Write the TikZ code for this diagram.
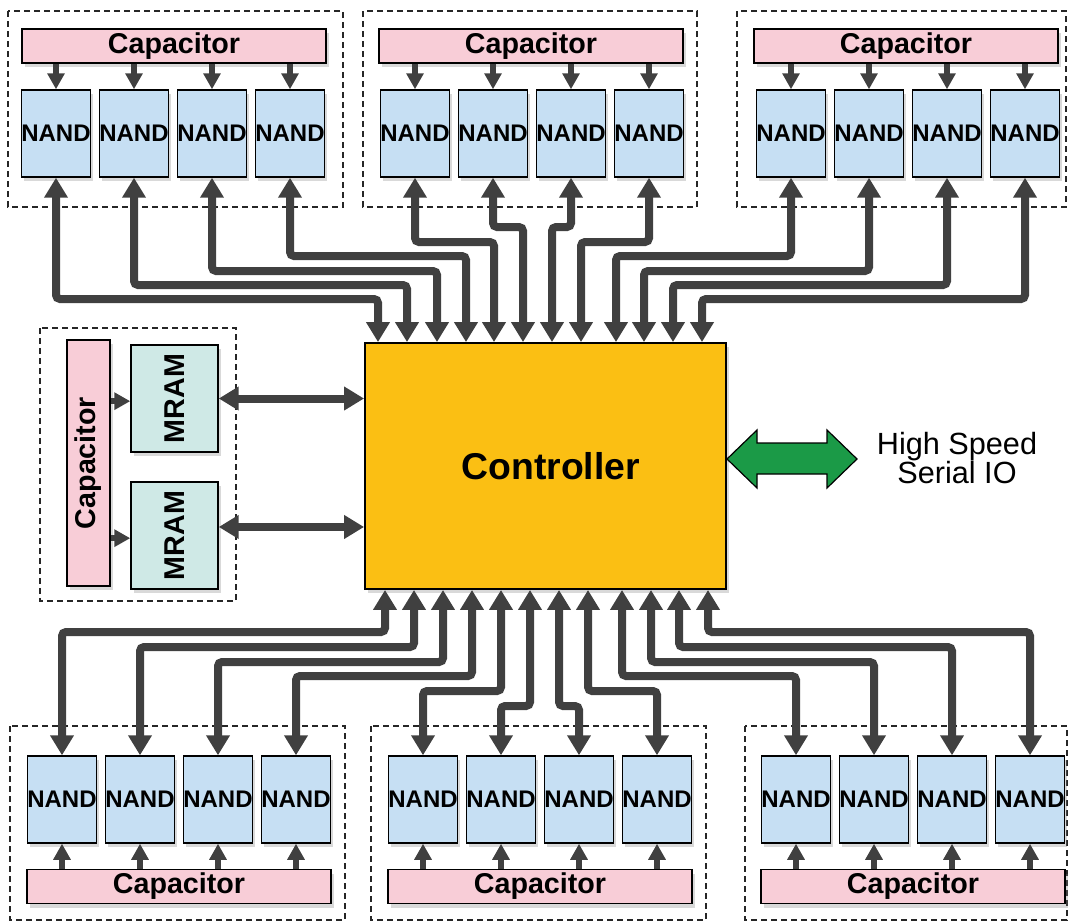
\documentclass[tikz,border=0pt]{standalone}
\usepackage{fontspec}
\setmainfont{Liberation Sans}
\usetikzlibrary{arrows.meta,shadows}

\newdimen\pxu \pxu=0.75pt

\definecolor{capfill}{HTML}{F8CDD7}
\definecolor{nandfill}{HTML}{C6DFF3}
\definecolor{mramfill}{HTML}{CFE9E6}
\definecolor{ctrlfill}{HTML}{FBBF13}
\definecolor{siogreen}{HTML}{1B9A47}
\definecolor{busgray}{HTML}{404040}

\begin{document}
\begin{tikzpicture}[
  x = 0.75pt, y = -0.75pt,
  every node/.style = {inner sep=0pt},
  box/.style     = {draw, line width=1.1pt,
                    drop shadow={shadow xshift=2pt, shadow yshift=-3pt, opacity=0.3}},
  nand/.style    = {box, fill=nandfill, minimum width=69\pxu, minimum height=87\pxu,
                    font=\fontsize{18}{18}\selectfont\bfseries},
  capbar/.style  = {box, fill=capfill, minimum width=304\pxu, minimum height=34\pxu,
                    font=\fontsize{21.5}{21.5}\selectfont\bfseries},
  mram/.style    = {box, fill=mramfill, minimum width=87\pxu, minimum height=107\pxu,
                    font=\fontsize{21.5}{21.5}\selectfont\bfseries},
  group/.style   = {draw=black!85, line width=1.1pt, dash pattern=on 4.5pt off 3pt},
  bus/.style     = {draw=busgray, line width=6pt, rounded corners=3pt,
                    {Triangle[width=17pt,length=15pt]}-{Triangle[width=17pt,length=15pt]}},
  feed/.style    = {draw=busgray, line width=4.8pt,
                    -{Triangle[width=12.5pt,length=12pt]}},
]
\useasboundingbox (0,0) rectangle (1069,922);

% groups
\draw[group] (8,11) rectangle (343,207);
\draw[group] (363,11) rectangle (697,207);
\draw[group] (737,11) rectangle (1066,207);
\draw[group] (40,328) rectangle (236,601);
\draw[group] (10,726) rectangle (345,920);
\draw[group] (371,726) rectangle (706,920);
\draw[group] (745,726) rectangle (1067,920);

% top row
\node[capbar] (tlcap) at (174,46) {Capacitor};
\node[capbar] (tmcap) at (531,46) {Capacitor};
\node[capbar] (trcap) at (906,46) {Capacitor};
\foreach \i/\x in {1/56, 2/134, 3/212, 4/290}
  \node[nand] (tl\i) at (\x,133.5) {NAND};
\foreach \i/\x in {1/415, 2/493, 3/571, 4/649}
  \node[nand] (tm\i) at (\x,133.5) {NAND};
\foreach \i/\x in {1/791, 2/869, 3/947, 4/1025}
  \node[nand] (tr\i) at (\x,133.5) {NAND};

% bottom row
\node[capbar] (blcap) at (179,886.5) {Capacitor};
\node[capbar] (bmcap) at (540,886.5) {Capacitor};
\node[capbar] (brcap) at (913,886.5) {Capacitor};
\foreach \i/\x in {1/62, 2/140, 3/218, 4/296}
  \node[nand] (bl\i) at (\x,799.5) {NAND};
\foreach \i/\x in {1/423, 2/501, 3/579, 4/657}
  \node[nand] (bm\i) at (\x,799.5) {NAND};
\foreach \i/\x in {1/796, 2/874, 3/952, 4/1030}
  \node[nand] (br\i) at (\x,799.5) {NAND};

% mram block
\node[box, fill=capfill, minimum width=43\pxu, minimum height=246\pxu,
      font=\fontsize{21.5}{21.5}\selectfont\bfseries] (mcap) at (88.5,463) {\rotatebox{90}{Capacitor}};
\node[mram] (mram1) at (174.5,398.5) {\rotatebox{90}{MRAM}};
\node[mram] (mram2) at (174.5,535.5) {\rotatebox{90}{MRAM}};

% controller
\node[box, line width=1.4pt, fill=ctrlfill, minimum width=361\pxu, minimum height=246\pxu,
      font=\fontsize{28}{28}\selectfont\bfseries] (ctrl) at (545.5,466) {\hspace{8pt}Controller};

% serial io
\draw[fill=siogreen, line width=0.9pt] (727,459) -- (757,430) -- (757,443) -- (827,443)
  -- (827,430) -- (857,459) -- (827,488) -- (827,474) -- (757,474) -- (757,488) -- cycle;
\node[align=center, font=\fontsize{23}{22}\selectfont] (sio) at (957,458) {High Speed\\Serial IO};

% capacitor feeds
\foreach \n in {tl1,tl2,tl3,tl4}
  \draw[feed] (\n.north |- tlcap.south) -- (\n.north);
\foreach \n in {tm1,tm2,tm3,tm4}
  \draw[feed] (\n.north |- tmcap.south) -- (\n.north);
\foreach \n in {tr1,tr2,tr3,tr4}
  \draw[feed] (\n.north |- trcap.south) -- (\n.north);
\foreach \n in {bl1,bl2,bl3,bl4}
  \draw[feed] (\n.south |- blcap.north) -- (\n.south);
\foreach \n in {bm1,bm2,bm3,bm4}
  \draw[feed] (\n.south |- bmcap.north) -- (\n.south);
\foreach \n in {br1,br2,br3,br4}
  \draw[feed] (\n.south |- brcap.north) -- (\n.south);
\draw[feed] ([yshift=-2pt]mram1.west -| mcap.east) -- ([yshift=-2pt]mram1.west);
\draw[feed] ([yshift=-2pt]mram2.west -| mcap.east) -- ([yshift=-2pt]mram2.west);

% mram links
\draw[bus] (mram1.east) -- (mram1.east -| ctrl.west);
\draw[bus] ([yshift=6.4pt]mram2.east) -- ([yshift=6.4pt]mram2.east -| ctrl.west);

% controller pins
\foreach \i/\x in {1/378, 2/407, 3/437, 4/466, 5/494, 6/523,
                   7/552, 8/581, 9/616, 10/644, 11/673, 12/702}
  \coordinate (cn\i) at (ctrl.north -| \x,0);
\foreach \i/\x in {1/385, 2/414, 3/443, 4/472, 5/501, 6/530,
                   7/559, 8/588, 9/622, 10/651, 11/679, 12/708}
  \coordinate (cs\i) at (ctrl.south -| \x,0);

% buses to the top
\foreach \p/\c/\y in {tl1/cn1/299, tl2/cn2/285, tl3/cn3/271, tl4/cn4/256,
                      tm1/cn5/242, tm2/cn6/227, tm3/cn7/227, tm4/cn8/242,
                      tr1/cn9/256, tr2/cn10/271, tr3/cn11/285, tr4/cn12/299}
  \draw[bus] (\p.south) -- (\p.south |- 0,\y) -| (\c);

% buses to the bottom
\foreach \c/\p/\y in {cs1/bl1/632, cs2/bl2/647, cs3/bl3/662, cs4/bl4/676,
                      cs5/bm1/691, cs6/bm2/706, cs7/bm3/706, cs8/bm4/691,
                      cs9/br1/676, cs10/br2/662, cs11/br3/647, cs12/br4/632}
  \draw[bus] (\c) -- (\c |- 0,\y) -| (\p.north);

\end{tikzpicture}
\end{document}
